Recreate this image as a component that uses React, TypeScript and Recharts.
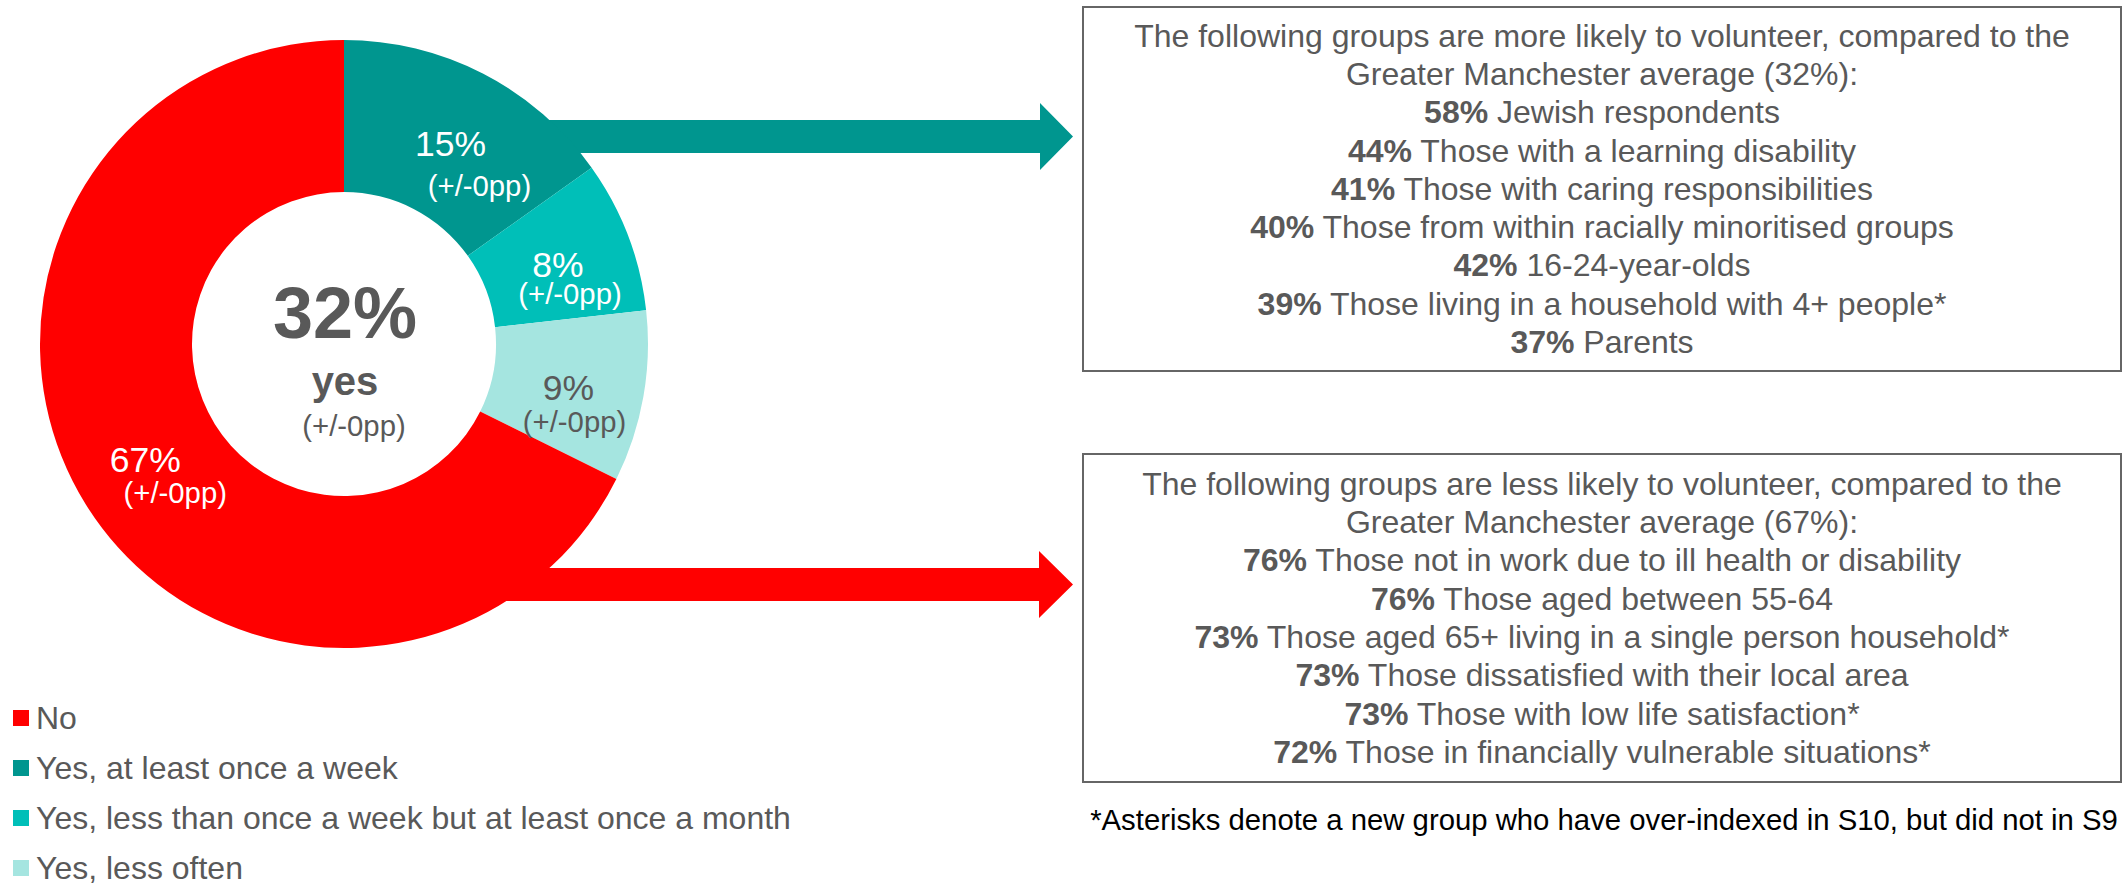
import React from 'react';
import { PieChart, Pie, Cell, Legend, Label } from 'recharts';

// ---- data ----
const sliceNames = [
  'Yes, at least once a week',
  'Yes, less than once a week but at least once a month',
  'Yes, less often',
  'No',
];
const sliceValues = [15, 8, 9, 67];
const sliceChanges = ['(+/-0pp)', '(+/-0pp)', '(+/-0pp)', '(+/-0pp)'];
const legendOrder = [
  'No',
  'Yes, at least once a week',
  'Yes, less than once a week but at least once a month',
  'Yes, less often',
];
const centerValue = '32%';
const centerName = 'yes';
const centerChange = '(+/-0pp)';

const moreHeader = [
  'The following groups are more likely to volunteer, compared to the',
  'Greater Manchester average (32%):',
];
const morePcts = ['58%', '44%', '41%', '40%', '42%', '39%', '37%'];
const moreGroups = [
  'Jewish respondents',
  'Those with a learning disability',
  'Those with caring responsibilities',
  'Those from within racially minoritised groups',
  '16-24-year-olds',
  'Those living in a household with 4+ people*',
  'Parents',
];
const lessHeader = [
  'The following groups are less likely to volunteer, compared to the',
  'Greater Manchester average (67%):',
];
const lessPcts = ['76%', '76%', '73%', '73%', '73%', '72%'];
const lessGroups = [
  'Those not in work due to ill health or disability',
  'Those aged between 55-64',
  'Those aged 65+ living in a single person household*',
  'Those dissatisfied with their local area',
  'Those with low life satisfaction*',
  'Those in financially vulnerable situations*',
];
const footnote = '*Asterisks denote a new group who have over-indexed in S10, but did not in S9';

// ---- styles ----
const FONT = '"Liberation Sans", Arial, Helvetica, sans-serif';
const GRAY = '#595959';
const sliceColors = ['#00968F', '#00BFB8', '#A5E5E0', '#FF0000'];
const labelColors = ['#FFFFFF', '#FFFFFF', GRAY, '#FFFFFF'];
const mainOffsets = [
  [2, 2],
  [1, 2],
  [0, 4],
  [-5, -5],
];
const subOffsets = [
  [29, 45.5],
  [12, 32],
  [6, 37],
  [30, 36],
];

const pieData = sliceNames.map((name, i) => ({ name, value: sliceValues[i] }));
const RAD = Math.PI / 180;

const renderSliceLabel = (p: any) => {
  const { cx, cy, midAngle, innerRadius, outerRadius, index } = p;
  const r = (innerRadius + outerRadius) / 2;
  const x = cx + r * Math.cos(-midAngle * RAD) + mainOffsets[index][0];
  const y = cy + r * Math.sin(-midAngle * RAD) + mainOffsets[index][1];
  const mainSize = 35.5;
  const subSize = 29.3;
  return (
    <g key={`lbl-${index}`}>
      <text
        x={x}
        y={y + mainSize * 0.358}
        textAnchor="middle"
        fill={labelColors[index]}
        fontSize={mainSize}
        fontFamily={FONT}
      >
        {sliceValues[index]}%
      </text>
      <text
        x={x + subOffsets[index][0]}
        y={y + subOffsets[index][1] + subSize * 0.26}
        textAnchor="middle"
        fill={labelColors[index]}
        fontSize={subSize}
        fontFamily={FONT}
      >
        {sliceChanges[index]}
      </text>
    </g>
  );
};

const renderCenter = (props: any) => {
  const vb = props && props.viewBox ? props.viewBox : {};
  const cx = typeof vb.cx === 'number' ? vb.cx : 344;
  const cy = typeof vb.cy === 'number' ? vb.cy : 344;
  return (
    <g>
      <text x={cx + 1} y={cy - 6} textAnchor="middle" fill={GRAY} fontSize={72} fontWeight="bold" fontFamily={FONT}>
        {centerValue}
      </text>
      <text x={cx + 1} y={cy + 51} textAnchor="middle" fill={GRAY} fontSize={40} fontWeight="bold" fontFamily={FONT}>
        {centerName}
      </text>
      <text x={cx + 10} y={cy + 92} textAnchor="middle" fill={GRAY} fontSize={29.3} fontFamily={FONT}>
        {centerChange}
      </text>
    </g>
  );
};

const renderLegend = () => (
  <div style={{ fontFamily: FONT }}>
    {legendOrder.map((name) => {
      const idx = sliceNames.indexOf(name);
      return (
        <div
          key={name}
          style={{ height: 50, display: 'flex', alignItems: 'center', whiteSpace: 'nowrap' }}
        >
          <div style={{ width: 16, height: 16, background: sliceColors[idx], marginLeft: 13, marginRight: 7 }} />
          <span style={{ fontSize: 32, color: GRAY, lineHeight: '32px' }}>{name}</span>
        </div>
      );
    })}
  </div>
);

const Box = ({ left, top, width, height, header, pcts, groups }: any) => (
  <div
    style={{
      position: 'absolute',
      left,
      top,
      width,
      height,
      boxSizing: 'border-box',
      border: '2px solid #666666',
      display: 'flex',
      flexDirection: 'column',
      justifyContent: 'center',
      alignItems: 'center',
      fontFamily: FONT,
      fontSize: 32,
      lineHeight: '38.3px',
      color: GRAY,
      textAlign: 'center',
      whiteSpace: 'nowrap',
    }}
  >
    {header.map((h: string) => (
      <div key={h}>{h}</div>
    ))}
    {pcts.map((p: string, i: number) => (
      <div key={i}>
        <b>{p}</b> {groups[i]}
      </div>
    ))}
  </div>
);

export default function App() {
  return (
    <div style={{ position: 'absolute', left: 0, top: 0, width: 2126, height: 884, background: '#fff', overflow: 'hidden' }}>
      <svg width={2126} height={884} style={{ position: 'absolute', left: 0, top: 0 }}>
        <polygon
          points="480,120 1040,120 1040,103 1073,136.5 1040,170 1040,153 480,153"
          fill={sliceColors[0]}
        />
        <polygon
          points="480,568 1039,568 1039,551 1073,584.5 1039,618 1039,601 480,601"
          fill={sliceColors[3]}
        />
      </svg>
      <div style={{ position: 'absolute', left: 0, top: 0 }}>
        <PieChart width={2126} height={884} margin={{ top: 0, right: 0, bottom: 0, left: 0 }}>
          <Pie
            data={pieData}
            dataKey="value"
            nameKey="name"
            cx={344}
            cy={344}
            innerRadius={152}
            outerRadius={304}
            startAngle={90}
            endAngle={-270}
            stroke="none"
            label={renderSliceLabel}
            labelLine={false}
            isAnimationActive={false}
          >
            {pieData.map((d, i) => (
              <Cell key={d.name} fill={sliceColors[i]} />
            ))}
            <Label position="center" content={renderCenter} />
          </Pie>
          <Legend
            content={renderLegend}
            wrapperStyle={{ position: 'absolute', left: 0, top: 693, width: 900, height: 191 }}
          />
        </PieChart>
      </div>
      <Box left={1082} top={6} width={1040} height={366} header={moreHeader} pcts={morePcts} groups={moreGroups} />
      <Box left={1082} top={453} width={1040} height={330} header={lessHeader} pcts={lessPcts} groups={lessGroups} />
      <div
        style={{
          position: 'absolute',
          left: 1089,
          top: 802,
          width: 1030,
          textAlign: 'center',
          fontFamily: FONT,
          fontSize: 29.3,
          lineHeight: '36px',
          color: '#000',
          whiteSpace: 'nowrap',
        }}
      >
        {footnote}
      </div>
    </div>
  );
}
